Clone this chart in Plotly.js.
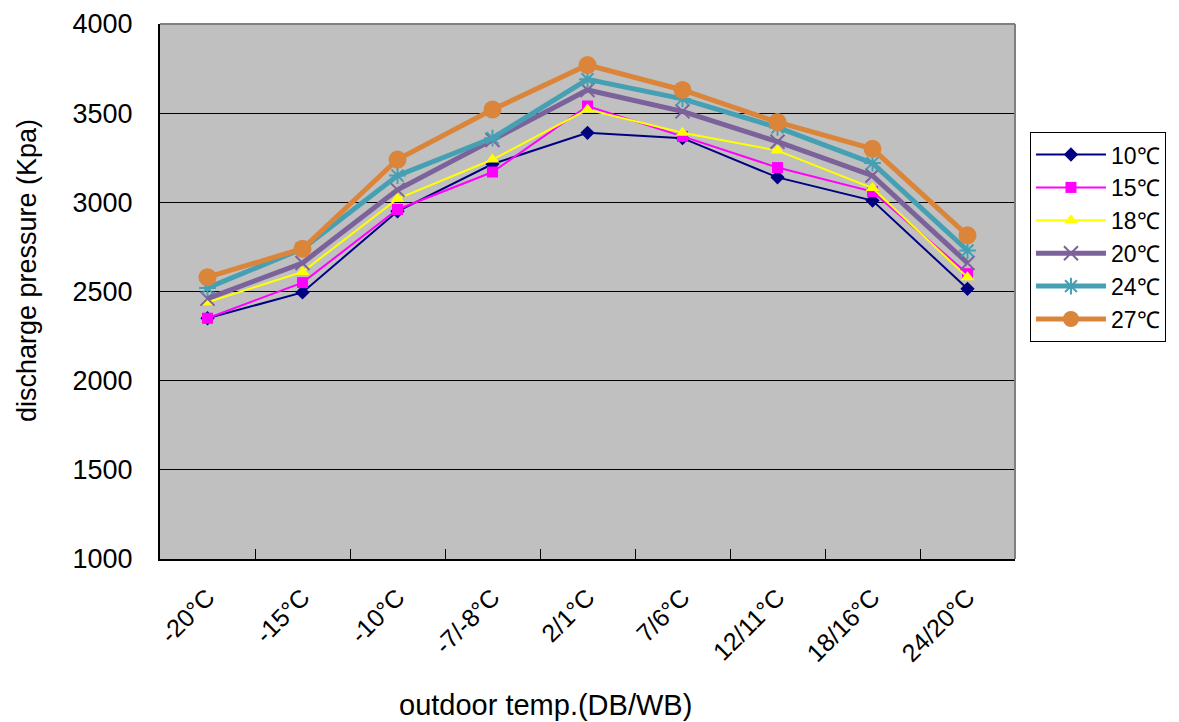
<!DOCTYPE html>
<html>
<head>
<meta charset="utf-8">
<script src="https://cdn.plot.ly/plotly-3.0.1.min.js"></script>
<style>html,body{margin:0;padding:0;background:#fff;}#chart{width:1179px;height:722px;}</style>
</head>
<body>
<div id="chart"></div>
<script>
const categories = ["-20°C", "-15°C", "-10°C", "-7/-8°C", "2/1°C", "7/6°C", "12/11°C", "18/16°C", "24/20°C"];
const seriesNames = ["10℃", "15℃", "18℃", "20℃", "24℃", "27℃"];
const s10 = [2350, 2495, 2950, 3215, 3390, 3360, 3140, 3010, 2515];
const s15 = [2350, 2550, 2960, 3170, 3540, 3370, 3195, 3060, 2600];
const s18 = [2440, 2610, 3020, 3240, 3520, 3390, 3290, 3080, 2580];
const s20 = [2460, 2660, 3070, 3350, 3630, 3510, 3340, 3150, 2660];
const s24 = [2520, 2740, 3150, 3360, 3690, 3580, 3420, 3220, 2730];
const s27 = [2580, 2740, 3240, 3520, 3770, 3630, 3450, 3300, 2815];
const yTicks = [1000, 1500, 2000, 2500, 3000, 3500, 4000];

const styles = [
  {color: "#000080", width: 2, symbol: "diamond", size: 11},
  {color: "#ff00ff", width: 2, symbol: "square", size: 11},
  {color: "#ffff00", width: 2, symbol: "triangle-up", size: 12},
  {color: "#7b629a", width: 5, symbol: "x-thin-open", size: 14},
  {color: "#46a0b3", width: 5, symbol: "asterisk-open", size: 14},
  {color: "#db853b", width: 5, symbol: "circle", size: 18}
];
const allSeries = [s10, s15, s18, s20, s24, s27];

const traces = allSeries.map((vals, i) => ({
  type: "scatter",
  mode: "lines+markers",
  name: seriesNames[i],
  x: categories,
  y: vals,
  line: {color: styles[i].color, width: styles[i].width},
  marker: {
    color: styles[i].color,
    symbol: styles[i].symbol,
    size: styles[i].size,
    line: {color: styles[i].color, width: (styles[i].symbol.indexOf("open") >= 0 ? 2 : 0)}
  }
}));

const layout = {
  width: 1179,
  height: 722,
  paper_bgcolor: "#ffffff",
  plot_bgcolor: "#c0c0c0",
  margin: {l: 160, r: 164, t: 24, b: 163},
  font: {family: "Arial, Liberation Sans, sans-serif", color: "#000"},
  showlegend: true,
  legend: {
    x: 1.0175, y: 0.798, xanchor: "left", yanchor: "top",
    bgcolor: "#ffffff", bordercolor: "#000000", borderwidth: 1,
    font: {size: 23, family: "Arial, Liberation Sans, sans-serif"},
    tracegroupgap: 0,
    itemwidth: 70
  },
  xaxis: {
    type: "category",
    range: [-0.5, 8.5],
    tickson: "boundaries",
    ticks: "inside",
    ticklen: 10,
    tickcolor: "#000",
    tickangle: -45,
    tickfont: {size: 25},
    ticklabelstandoff: 12,
    showline: true, linecolor: "#000", linewidth: 2,
    mirror: false,
    showgrid: false,
    zeroline: false
  },
  yaxis: {
    range: [1000, 4000],
    tickvals: yTicks,
    ticktext: yTicks.map(String),
    tickfont: {size: 27},
    ticks: "",
    ticklabelstandoff: 20,
    showgrid: true, gridcolor: "#000", gridwidth: 1,
    showline: true, linecolor: "#000", linewidth: 2,
    zeroline: false
  },
  shapes: [
    {type: "line", xref: "paper", yref: "paper", x0: 0, x1: 1, y0: 1, y1: 1, line: {color: "#808080", width: 2}},
    {type: "line", xref: "paper", yref: "paper", x0: 1, x1: 1, y0: 0, y1: 1, line: {color: "#808080", width: 2}}
  ],
  annotations: [
    {text: "outdoor temp.(DB/WB)", xref: "paper", yref: "paper", x: 0.4503, y: -0.273, xanchor: "center", yanchor: "middle", showarrow: false, font: {size: 29}},
    {text: "discharge pressure (Kpa)", xref: "paper", yref: "paper", x: -0.1556, y: 0.540, xanchor: "center", yanchor: "middle", textangle: -90, showarrow: false, font: {size: 27}}
  ]
};

Plotly.newPlot("chart", traces, layout, {displayModeBar: false, staticPlot: true});
</script>
</body>
</html>
